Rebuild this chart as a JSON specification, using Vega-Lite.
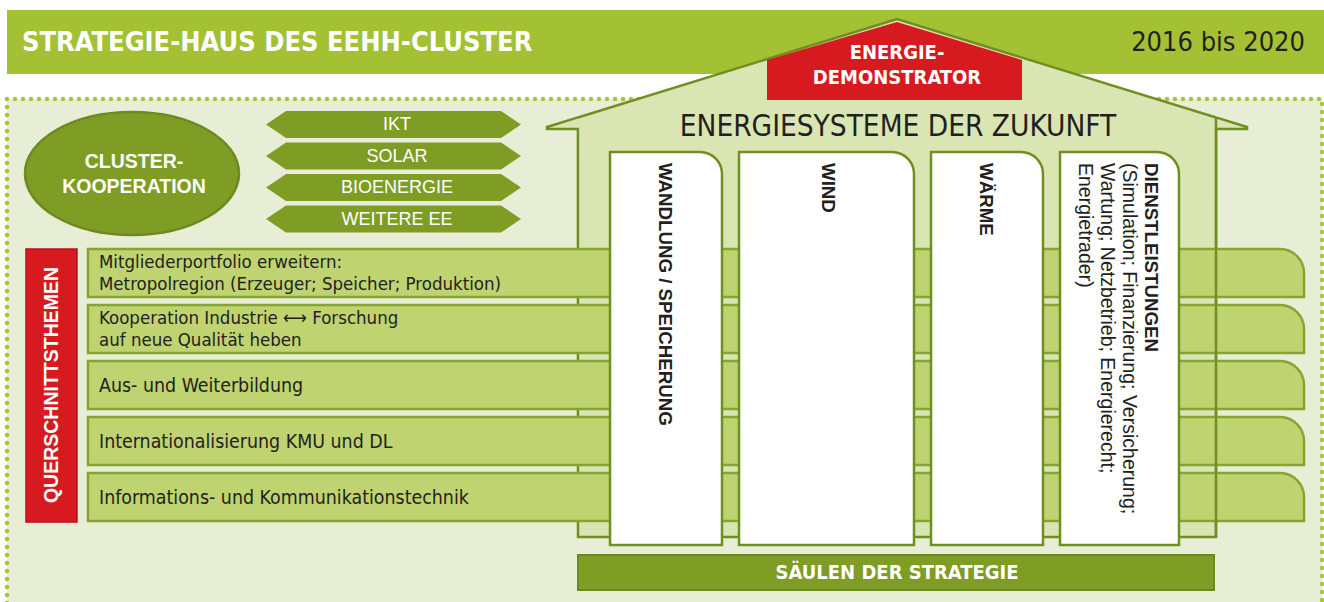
{
  "$schema": "https://vega.github.io/schema/vega-lite/v6.json",
  "width": 1324,
  "height": 602,
  "autosize": "none",
  "padding": 0,
  "background": "white",
  "config": {"view": {"stroke": null}},
  "encoding": {
    "x": {"field": "x", "type": "quantitative", "scale": {"domain": [0, 1324], "nice": false, "zero": false}, "axis": null},
    "y": {"field": "y", "type": "quantitative", "scale": {"domain": [0, 602], "nice": false, "zero": false, "reverse": true}, "axis": null}
  },
  "layer": [
    {
      "data": {"values": [{"x": 7, "x2": 1322, "y": 99, "y2": 640}]},
      "mark": {"type": "rect", "fill": "#e8eed5", "stroke": "#a4c53a", "strokeWidth": 4.5, "strokeDash": [0, 8], "strokeCap": "round"},
      "encoding": {"x2": {"field": "x2"}, "y2": {"field": "y2"}}
    },
    {
      "data": {"values": [{"x": 7, "x2": 1340, "y": 10, "y2": 74}]},
      "mark": {"type": "rect", "fill": "#a3c133"},
      "encoding": {"x2": {"field": "x2"}, "y2": {"field": "y2"}}
    },
    {
      "data": {"values": [
        {"x": 547, "y": 127, "y2": 129},
        {"x": 577.9, "y": 117.4, "y2": 129},
        {"x": 578, "y": 117.4, "y2": 537},
        {"x": 897, "y": 19, "y2": 537},
        {"x": 1216, "y": 117.4, "y2": 537},
        {"x": 1216.1, "y": 117.4, "y2": 129},
        {"x": 1247, "y": 127, "y2": 129}
      ]},
      "mark": {"type": "area", "fill": "#d9e5b3", "stroke": "#6f8f20", "strokeWidth": 2.5, "strokeJoin": "miter", "opacity": 1, "fillOpacity": 1},
      "encoding": {"y2": {"field": "y2"}}
    },
    {
      "data": {"values": [
        {"x": 767, "y": 60, "y2": 100},
        {"x": 897, "y": 22, "y2": 100},
        {"x": 1022, "y": 60, "y2": 100}
      ]},
      "mark": {"type": "area", "fill": "#d71920", "opacity": 1, "fillOpacity": 1},
      "encoding": {"y2": {"field": "y2"}}
    },
    {
      "data": {"values": [
        {"x": 88, "x2": 1304, "y": 249, "y2": 297},
        {"x": 88, "x2": 1304, "y": 305, "y2": 353},
        {"x": 88, "x2": 1304, "y": 361, "y2": 409},
        {"x": 88, "x2": 1304, "y": 417, "y2": 465},
        {"x": 88, "x2": 1304, "y": 473, "y2": 521}
      ]},
      "mark": {"type": "rect", "fill": "#bfd370", "stroke": "#86a530", "strokeWidth": 2.5, "cornerRadiusTopRight": 28},
      "encoding": {"x2": {"field": "x2"}, "y2": {"field": "y2"}}
    },
    {
      "data": {"values": [{"x": 1216, "y": 118, "y2": 537}]},
      "mark": {"type": "rule", "stroke": "#6f8f20", "strokeWidth": 2.5},
      "encoding": {"y2": {"field": "y2"}}
    },
    {
      "data": {"values": [
        {"x": 610, "x2": 722, "y": 152, "y2": 545},
        {"x": 739, "x2": 914, "y": 152, "y2": 545},
        {"x": 931, "x2": 1043, "y": 152, "y2": 545},
        {"x": 1060, "x2": 1179, "y": 152, "y2": 545}
      ]},
      "mark": {"type": "rect", "fill": "#ffffff", "stroke": "#6f8f20", "strokeWidth": 2.5, "cornerRadiusTopRight": 22},
      "encoding": {"x2": {"field": "x2"}, "y2": {"field": "y2"}}
    },
    {
      "data": {"values": [{"x": 578, "x2": 1214, "y": 555, "y2": 590}]},
      "mark": {"type": "rect", "fill": "#7f9c25", "stroke": "#6b8a1f", "strokeWidth": 2},
      "encoding": {"x2": {"field": "x2"}, "y2": {"field": "y2"}}
    },
    {
      "data": {"values": [{"x": 26, "x2": 77, "y": 249, "y2": 522}]},
      "mark": {"type": "rect", "fill": "#d71920", "stroke": "#b5121b", "strokeWidth": 1.5},
      "encoding": {"x2": {"field": "x2"}, "y2": {"field": "y2"}}
    },
    {
      "data": {"values": [{"x": 132, "y": 173.5}]},
      "mark": {"type": "point", "shape": "M-1,0A1,0.575,0,1,0,1,0A1,0.575,0,1,0,-1,0Z", "size": 45796, "filled": true, "fill": "#7f9c25", "stroke": "#6b8a1f", "strokeWidth": 2.5, "opacity": 1, "fillOpacity": 1, "strokeOpacity": 1}
    },
    {
      "data": {"values": [{"x": 393.5, "y": 124.5}, {"x": 393.5, "y": 156}, {"x": 393.5, "y": 187.5}, {"x": 393.5, "y": 219}]},
      "mark": {"type": "point", "shape": "M-1,0L-0.843,-0.106L0.843,-0.106L1,0L0.843,0.106L-0.843,0.106Z", "size": 65025, "filled": true, "fill": "#7f9c25", "opacity": 1, "fillOpacity": 1, "strokeWidth": 0}
    },
    {
      "data": {"values": [{"x": 22, "y": 43, "t": "STRATEGIE-HAUS DES EEHH-CLUSTER"}]},
      "mark": {"type": "text", "align": "left", "baseline": "middle", "font": "'Liberation Sans Narrow', 'DejaVu Sans Condensed', 'Roboto Condensed', Roboto, sans-serif", "fontWeight": "bold", "fontSize": 27, "fill": "#ffffff"},
      "encoding": {"text": {"field": "t"}}
    },
    {
      "data": {"values": [{"x": 1305, "y": 43, "t": "2016 bis 2020"}]},
      "mark": {"type": "text", "align": "right", "baseline": "middle", "font": "'Liberation Sans Narrow', 'DejaVu Sans Condensed', 'Roboto Condensed', Roboto, sans-serif", "fontSize": 27, "fill": "#231f20"},
      "encoding": {"text": {"field": "t"}}
    },
    {
      "data": {"values": [{"x": 897, "y": 53, "t": "ENERGIE-"}, {"x": 897, "y": 78, "t": "DEMONSTRATOR"}]},
      "mark": {"type": "text", "align": "center", "baseline": "middle", "font": "'Liberation Sans Narrow', 'DejaVu Sans Condensed', 'Roboto Condensed', Roboto, sans-serif", "fontWeight": "bold", "fontSize": 20, "fill": "#ffffff"},
      "encoding": {"text": {"field": "t"}}
    },
    {
      "data": {"values": [{"x": 898, "y": 127, "t": "ENERGIESYSTEME DER ZUKUNFT"}]},
      "mark": {"type": "text", "align": "center", "baseline": "middle", "font": "'Liberation Sans Narrow', 'DejaVu Sans Condensed', 'Roboto Condensed', Roboto, sans-serif", "fontSize": 29.5, "fill": "#231f20"},
      "encoding": {"text": {"field": "t"}}
    },
    {
      "data": {"values": [{"x": 134, "y": 162, "t": "CLUSTER-"}, {"x": 134, "y": 187, "t": "KOOPERATION"}]},
      "mark": {"type": "text", "align": "center", "baseline": "middle", "font": "'Liberation Sans', Arial, sans-serif", "fontWeight": "bold", "fontSize": 19.5, "fill": "#ffffff"},
      "encoding": {"text": {"field": "t"}}
    },
    {
      "data": {"values": [{"x": 397, "y": 125, "t": "IKT"}, {"x": 397, "y": 156.5, "t": "SOLAR"}, {"x": 397, "y": 188, "t": "BIOENERGIE"}, {"x": 397, "y": 219.5, "t": "WEITERE EE"}]},
      "mark": {"type": "text", "align": "center", "baseline": "middle", "font": "'Liberation Sans', Arial, sans-serif", "fontSize": 18, "fill": "#ffffff"},
      "encoding": {"text": {"field": "t"}}
    },
    {
      "data": {"values": [
        {"x": 99, "y": 261.5, "t": "Mitgliederportfolio erweitern:"},
        {"x": 99, "y": 283.5, "t": "Metropolregion (Erzeuger; Speicher; Produktion)"},
        {"x": 99, "y": 317.5, "t": "Kooperation Industrie ⟷ Forschung"},
        {"x": 99, "y": 339.5, "t": "auf neue Qualität heben"}
      ]},
      "mark": {"type": "text", "align": "left", "baseline": "middle", "font": "'Liberation Sans Narrow', 'DejaVu Sans Condensed', 'Roboto Condensed', Roboto, sans-serif", "fontSize": 18.5, "fill": "#231f20"},
      "encoding": {"text": {"field": "t"}}
    },
    {
      "data": {"values": [
        {"x": 99, "y": 386, "t": "Aus- und Weiterbildung"},
        {"x": 99, "y": 442, "t": "Internationalisierung KMU und DL"},
        {"x": 99, "y": 498, "t": "Informations- und Kommunikationstechnik"}
      ]},
      "mark": {"type": "text", "align": "left", "baseline": "middle", "font": "'Liberation Sans Narrow', 'DejaVu Sans Condensed', 'Roboto Condensed', Roboto, sans-serif", "fontSize": 19.4, "fill": "#231f20"},
      "encoding": {"text": {"field": "t"}}
    },
    {
      "data": {"values": [{"x": 52, "y": 385, "t": "QUERSCHNITTSTHEMEN"}]},
      "mark": {"type": "text", "align": "center", "baseline": "middle", "angle": 270, "font": "'Liberation Sans', Arial, sans-serif", "fontWeight": "bold", "fontSize": 19.5, "fill": "#ffffff"},
      "encoding": {"text": {"field": "t"}}
    },
    {
      "data": {"values": [
        {"x": 665, "y": 163, "t": "WANDLUNG / SPEICHERUNG"},
        {"x": 828, "y": 163, "t": "WIND"},
        {"x": 986, "y": 163, "t": "WÄRME"},
        {"x": 1151, "y": 163, "t": "DIENSTLEISTUNGEN"}
      ]},
      "mark": {"type": "text", "align": "left", "baseline": "middle", "angle": 90, "font": "'Liberation Sans', Arial, sans-serif", "fontWeight": "bold", "fontSize": 18.7, "fill": "#231f20"},
      "encoding": {"text": {"field": "t"}}
    },
    {
      "data": {"values": [
        {"x": 1129, "y": 163, "t": "(Simulation; Finanzierung; Versicherung;"},
        {"x": 1107, "y": 163, "t": "Wartung; Netzbetrieb; Energierecht;"},
        {"x": 1085, "y": 163, "t": "Energietrader)"}
      ]},
      "mark": {"type": "text", "align": "left", "baseline": "middle", "angle": 90, "font": "'Liberation Sans', Arial, sans-serif", "fontSize": 19.5, "fill": "#231f20"},
      "encoding": {"text": {"field": "t"}}
    },
    {
      "data": {"values": [{"x": 897, "y": 573, "t": "SÄULEN DER STRATEGIE"}]},
      "mark": {"type": "text", "align": "center", "baseline": "middle", "font": "'Liberation Sans Narrow', 'DejaVu Sans Condensed', 'Roboto Condensed', Roboto, sans-serif", "fontWeight": "bold", "fontSize": 20, "fill": "#ffffff"},
      "encoding": {"text": {"field": "t"}}
    }
  ]
}
